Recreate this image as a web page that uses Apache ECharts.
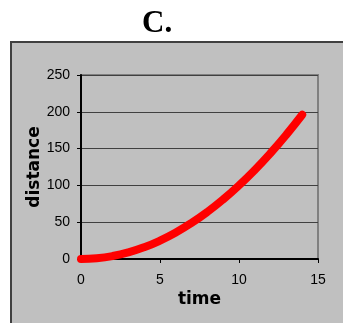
<!DOCTYPE html>
<html><head><meta charset="utf-8">
<script src="https://cdn.jsdelivr.net/npm/echarts@6/dist/echarts.min.js"></script>
<style>html,body{margin:0;padding:0;background:#fff}#c{width:343px;height:323px}</style>
</head><body><div id="c"></div>
<script>
var time = [0,1,2,3,4,5,6,7,8,9,10,11,12,13,14];
var distance = [0,1,4,9,16,25,36,49,64,81,100,121,144,169,196];
var xTicks = [0,5,10,15];
var yTicks = [0,50,100,150,200,250];

var chart = echarts.init(document.getElementById('c'), null, {renderer:'canvas'});
chart.setOption({
  animation:false,
  backgroundColor:'#ffffff',
  graphic:[
    {type:'rect', z:-10, shape:{x:11,y:42,width:345,height:300}, style:{fill:'#c0c0c0', stroke:'#404040', lineWidth:2}},
    {type:'text', left:142, top:8, style:{text:'C.', font:'bold 31px "Liberation Serif"', fill:'#000'}}
  ],
  grid:{left:81,right:25,top:75,bottom:64,show:true,backgroundColor:'#c0c0c0',borderColor:'#808080',borderWidth:2},
  xAxis:{
    type:'value', min:0, max:15, interval:5,
    name:'time', nameLocation:'middle', nameGap:32, nameMoveOverlap:false,
    nameTextStyle:{fontFamily:'DejaVu Sans', fontWeight:'bold', fontSize:17, color:'#000'},
    axisLine:{show:true,onZero:false,lineStyle:{color:'#000',width:2}},
    axisTick:{show:true,length:4,lineStyle:{color:'#000',width:1}},
    axisLabel:{margin:14,fontFamily:'Liberation Sans',fontSize:14,color:'#000'},
    splitLine:{show:false}
  },
  yAxis:{
    type:'value', min:0, max:250, interval:50,
    name:'distance', nameLocation:'middle', nameGap:38, nameRotate:90, nameMoveOverlap:false,
    nameTextStyle:{fontFamily:'DejaVu Sans', fontWeight:'bold', fontSize:17, color:'#000'},
    axisLine:{show:true,onZero:false,lineStyle:{color:'#000',width:2}},
    axisTick:{show:true,length:4,lineStyle:{color:'#000',width:1}},
    axisLabel:{margin:11,fontFamily:'Liberation Sans',fontSize:14,color:'#000'},
    splitLine:{show:true,lineStyle:{color:'#404040',width:1}}
  },
  series:[{
    type:'line', smooth:true, symbol:'none',
    data: time.map(function(t,i){return [t, distance[i]];}),
    lineStyle:{color:'#ff0000', width:8, cap:'round', join:'round'}
  }]
});
</script></body></html>
